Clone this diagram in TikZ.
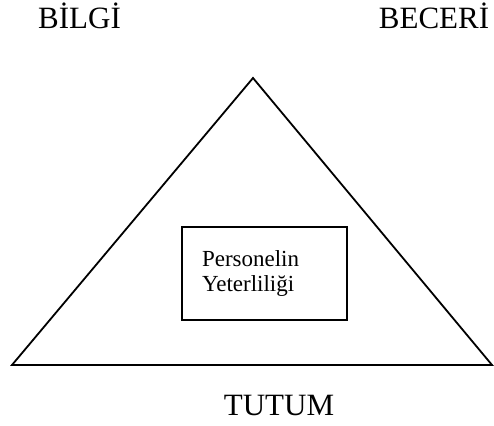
\documentclass[tikz,border=0pt]{standalone}
\usepackage{fontspec}
\setmainfont{Liberation Serif}
\usetikzlibrary{positioning}

\begin{document}
\begin{tikzpicture}[
    x=1pt, y=-1pt,
    every node/.style={inner sep=0pt},
    corner/.style={font=\fontsize{31}{31}\selectfont, anchor=base},
    box/.style={draw, line width=1.6pt, minimum width=165pt, minimum height=93pt, text width=125pt, align=left, font=\fontsize{23}{25}\selectfont},
    side/.style={line width=1.8pt, line join=miter}
]
\useasboundingbox (0,0) rectangle (494,425);

\coordinate (apex) at (253,78);
\coordinate (bl) at (12,365);
\coordinate (br) at (492,365);
\draw[side] (apex) -- (br) -- (bl) -- cycle;

\node[box] (yeterlilik) at (264.5,273.5) {Personelin\\Yeterliliği};

\node[corner] (bilgi) at (79.5,29) {BİLGİ};
\node[corner] (beceri) at (434,29) {BECERİ};
\node[corner] (tutum) at (279,415) {TUTUM};
\end{tikzpicture}
\end{document}
